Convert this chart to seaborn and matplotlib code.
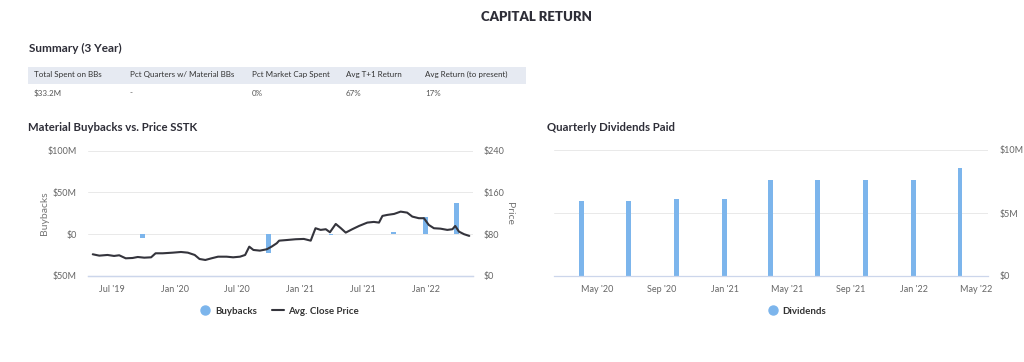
import seaborn as sns
import pandas as pd
import matplotlib.pyplot as plt
from matplotlib.lines import Line2D
from matplotlib.patches import Rectangle
from matplotlib.ticker import FixedLocator

# ---- data ----
price_dates = ["2019-05-07", "2019-05-26", "2019-06-19", "2019-07-08", "2019-07-23", "2019-08-11",
               "2019-08-31", "2019-09-15", "2019-10-04", "2019-10-24", "2019-11-06", "2019-11-27",
               "2019-12-26", "2020-01-19", "2020-02-08", "2020-02-28", "2020-03-13", "2020-03-30",
               "2020-04-17", "2020-05-06", "2020-05-31", "2020-06-19", "2020-07-09", "2020-07-24",
               "2020-08-05", "2020-08-17", "2020-09-05", "2020-09-25", "2020-10-09", "2020-10-24",
               "2020-10-31", "2020-11-24", "2020-12-18", "2021-01-11", "2021-01-31", "2021-02-14",
               "2021-03-01", "2021-03-16", "2021-03-28", "2021-04-14", "2021-04-29", "2021-05-13",
               "2021-06-01", "2021-06-21", "2021-07-15", "2021-08-03", "2021-08-18", "2021-08-28",
               "2021-09-11", "2021-10-01", "2021-10-20", "2021-11-08", "2021-11-23", "2021-12-12",
               "2021-12-27", "2022-01-10", "2022-01-25", "2022-02-13", "2022-03-05", "2022-03-20",
               "2022-03-28", "2022-04-08", "2022-04-23", "2022-05-08"]
prices = [41.6, 39, 40.3, 38.4, 39.7, 33.9, 34.5, 36.4, 35.1, 35.8, 43.5, 43.5,
          44.7, 46, 44.7, 40.3, 32.6, 30.7, 33.9, 37, 37, 35.8, 37, 40.3,
          56.2, 49.9, 48.6, 51.2, 56.2, 62.7, 67.7, 69, 70.4, 71, 67.7, 91.5,
          88.3, 89.6, 83.8, 99.7, 91.5, 83.1, 89.6, 95.9, 102.3, 103.6, 102.3, 115.1,
          117, 118.9, 123.3, 121.4, 113.8, 110.7, 110.7, 97.8, 91.5, 90.7, 88.3, 89.6,
          95.9, 85, 80, 76.8]

bb_dates = ["2019-09-30", "2020-09-30", "2021-03-31", "2021-09-30", "2021-12-31", "2022-03-31"]
bb_values = [-4, -23, -1, 3, 21, 37]  # $M

div_dates = ["2020-03-31", "2020-06-30", "2020-09-30", "2020-12-31", "2021-03-31",
             "2021-06-30", "2021-09-30", "2021-12-31", "2022-03-31"]
div_values = [5.97, 5.97, 6.1, 6.1, 7.58, 7.58, 7.58, 7.58, 8.57]  # $M

left_xticks = ["2019-07-01", "2020-01-01", "2020-07-01", "2021-01-01", "2021-07-01", "2022-01-01"]
left_xlabels = ["Jul '19", "Jan '20", "Jul '20", "Jan '21", "Jul '21", "Jan '22"]
right_xticks = ["2020-05-01", "2020-09-01", "2021-01-01", "2021-05-01", "2021-09-01",
                "2022-01-01", "2022-05-01"]
right_xlabels = ["May '20", "Sep '20", "Jan '21", "May '21", "Sep '21", "Jan '22", "May '22"]

table_cols = ["Total Spent on BBs", "Pct Quarters w/ Material BBs", "Pct Market Cap Spent",
              "Avg T+1 Return", "Avg Return (to present)"]
table_vals = ["$33.2M", "-", "0%", "67%", "17%"]

BAR = "#7cb5ec"
LINE = "#34343c"
GRID = "#e9e9e9"
AXIS = "#ccd6eb"
TICK = "#666666"
DARK = "#2e2e38"

sns.set_theme(style="white")
plt.rcParams['font.family'] = ['Lato', 'DejaVu Sans']

W, H = 1024, 362
fig = plt.figure(figsize=(W / 100, H / 100), dpi=100)
fig.patch.set_facecolor("white")


def px(x, y):
    return x / W, 1 - y / H


def style_axis(ax):
    for s in ["top", "left", "right"]:
        ax.spines[s].set_visible(False)
    ax.spines["bottom"].set_color(AXIS)
    ax.spines["bottom"].set_linewidth(0.9)
    ax.tick_params(axis="x", colors=AXIS, length=4.5, width=0.8, labelsize=6.5,
                   labelcolor=TICK, pad=2)
    ax.tick_params(axis="y", length=0, labelsize=6.5, labelcolor=TICK)
    ax.set_xlabel("")
    ax.set_facecolor("none")


# ---- header ----
fig.text(*px(536, 17), "CAPITAL RETURN", ha="center", va="center",
         fontsize=9.5, fontweight="heavy", color=DARK)
fig.text(*px(29, 48), "Summary (3 Year)", ha="left", va="center",
         fontsize=8.5, fontweight="bold", color=DARK)
fig.patches.append(Rectangle(px(28, 84), 498 / W, 17.5 / H, transform=fig.transFigure,
                             facecolor="#e6eaf2", edgecolor="none", zorder=0))
col_x = [34, 130, 252, 346, 425]
for cx, name, val in zip(col_x, table_cols, table_vals):
    fig.text(*px(cx, 74.5), name, ha="left", va="center", fontsize=5.8, color="#333333")
    fig.text(*px(cx, 93), val, ha="left", va="center", fontsize=5.8, color="#555555")

fig.text(*px(28, 127), "Material Buybacks vs. Price SSTK", ha="left", va="center",
         fontsize=8.2, fontweight="bold", color=DARK)
fig.text(*px(547, 127), "Quarterly Dividends Paid", ha="left", va="center",
         fontsize=8.2, fontweight="bold", color=DARK)

# ---- buybacks vs price ----
x0, x1, y0, y1 = 88.3, 472.7, 150.7, 276
ax1 = fig.add_axes([x0 / W, 1 - y1 / H, (x1 - x0) / W, (y1 - y0) / H])
bb = pd.DataFrame({"date": pd.to_datetime(bb_dates), "value": bb_values})
ax1.bar(bb["date"], bb["value"], width=14, color=BAR, edgecolor="none", zorder=2)
ax1.set_ylim(-50, 100)
ax1.yaxis.set_major_locator(FixedLocator([-50, 0, 50, 100]))
ax1.set_yticklabels(["$50M", "$0", "$50M", "$100M"])
ax1.tick_params(axis="y", pad=8.5)
for v in [0, 50, 100]:
    ax1.axhline(v, color=GRID, lw=0.7, zorder=0)
ax1.set_xlim(pd.Timestamp("2019-04-24"), pd.Timestamp("2022-05-18"))
ax1.set_xticks(pd.to_datetime(left_xticks))
ax1.set_xticklabels(left_xlabels)
style_axis(ax1)
ax1.set_ylabel("")

ax1b = ax1.twinx()
pr = pd.DataFrame({"date": pd.to_datetime(price_dates), "price": prices})
sns.lineplot(data=pr, x="date", y="price", ax=ax1b, color=LINE, lw=1.5, zorder=3)
ax1b.set_ylim(0, 240)
ax1b.yaxis.set_major_locator(FixedLocator([0, 80, 160, 240]))
ax1b.set_yticklabels(["$0", "$80", "$160", "$240"])
style_axis(ax1b)
ax1b.tick_params(axis="y", pad=7.5)
ax1b.set_ylabel("")
ax1b.set_xlim(ax1.get_xlim())

fig.text(*px(44, 213), "Buybacks", rotation=90, ha="center", va="center",
         fontsize=7.5, color="#777777")
fig.text(*px(509, 213), "Price", rotation=270, ha="center", va="center",
         fontsize=7.5, color="#777777")

leg_font = {"weight": "bold", "size": 7}
fig.legend(handles=[Line2D([], [], marker="o", ls="", color=BAR, ms=6.5),
                    Line2D([], [], color=LINE, lw=1.5)],
           labels=["Buybacks", "Avg. Close Price"], loc="center",
           bbox_to_anchor=px(279, 311), ncol=2, frameon=False, prop=leg_font,
           labelcolor="#333333", handlelength=1.2, handletextpad=0.5, columnspacing=1.5)

# ---- dividends ----
d0, d1 = 554, 988
ax2 = fig.add_axes([d0 / W, 1 - y1 / H, (d1 - d0) / W, (y1 - 150) / H])
dv = pd.DataFrame({"date": pd.to_datetime(div_dates), "value": div_values})
ax2.bar(dv["date"], dv["value"], width=9.6, color=BAR, edgecolor="none", zorder=2)
ax2.set_ylim(0, 10)
ax2.yaxis.tick_right()
ax2.yaxis.set_major_locator(FixedLocator([0, 5, 10]))
ax2.set_yticklabels(["$0", "$5M", "$10M"])
for v in [5, 10]:
    ax2.axhline(v, color=GRID, lw=0.7, zorder=0)
ax2.set_xlim(pd.Timestamp("2020-02-07"), pd.Timestamp("2022-05-24"))
ax2.set_xticks(pd.to_datetime(right_xticks))
ax2.set_xticklabels(right_xlabels)
style_axis(ax2)
ax2.tick_params(axis="y", pad=8)

fig.legend(handles=[Line2D([], [], marker="o", ls="", color=BAR, ms=6.5)],
           labels=["Dividends"], loc="center", bbox_to_anchor=px(797, 311),
           frameon=False, prop=leg_font, labelcolor="#333333",
           handlelength=1.0, handletextpad=0.5)

fig.savefig("out.png", dpi=100, facecolor="white")
